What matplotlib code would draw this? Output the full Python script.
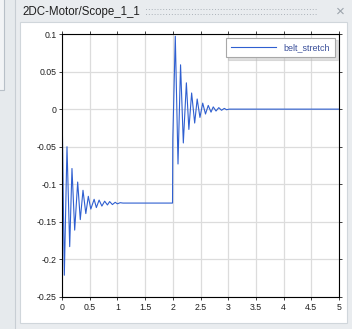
import matplotlib
matplotlib.use('Agg')
import matplotlib.pyplot as plt
from matplotlib.patches import Rectangle

# signal: turning points of belt_stretch
time = [0.0, 0.005, 0.042, 0.09, 0.139, 0.18, 0.229, 0.283, 0.33, 0.379, 0.43,
        0.475, 0.52, 0.58, 0.62, 0.67, 0.72, 0.77, 0.82, 0.86, 0.91, 0.96, 1.0,
        1.05, 1.1, 1.995, 2.0, 2.045, 2.094, 2.14, 2.19, 2.245, 2.29, 2.34,
        2.395, 2.44, 2.49, 2.54, 2.59, 2.64, 2.69, 2.73, 2.78, 2.83, 2.88,
        2.93, 2.97, 3.02, 5.0]
belt_stretch = [0.0, -0.018, -0.221, -0.05, -0.183, -0.079, -0.161, -0.097,
                -0.147, -0.108, -0.139, -0.116, -0.133, -0.12, -0.131, -0.121,
                -0.129, -0.1225, -0.1275, -0.123, -0.127, -0.124, -0.126,
                -0.1245, -0.125, -0.125, -0.04, 0.097, -0.073, 0.059, -0.045,
                0.035, -0.027, 0.0215, -0.0185, 0.0135, -0.011, 0.008, -0.0065,
                0.005, -0.004, 0.003, -0.0025, 0.002, -0.0015, 0.001, -0.0008,
                0.0, 0.0]

x_ticks = [0, 0.5, 1, 1.5, 2, 2.5, 3, 3.5, 4, 4.5, 5]
x_labels = ['0', '0.5', '1', '1.5', '2', '2.5', '3', '3.5', '4', '4.5', '5']
y_ticks = [-0.25, -0.2, -0.15, -0.1, -0.05, 0, 0.05, 0.1]
y_labels = ['-0.25', '-0.2', '-0.15', '-0.1', '-0.05', '0', '0.05', '0.1']

plt.rcParams['font.family'] = ['Liberation Sans', 'DejaVu Sans']

W, H = 352, 329
fig = plt.figure(figsize=(W / 100, H / 100), dpi=100, facecolor='#e6eaed')

def box(x0, y0, x1, y1, fc, ec='none', lw=0):
    # rectangle in pixel coords (top-left origin)
    fig.add_artist(Rectangle((x0 / W, 1 - y1 / H), (x1 - x0) / W, (y1 - y0) / H,
                             transform=fig.transFigure, facecolor=fc,
                             edgecolor=ec, linewidth=lw, zorder=0))

# bits of the surrounding window
box(-2, -2, 4, 90, '#f2f4f6', '#b8c0c8', 0.8)
box(15, -2, 354, 331, '#e9ecef', '#c8ced4', 0.8)
box(20, 22, 347, 323, '#ffffff', '#d0d6db', 0.8)
fig.text(22 / W, 1 - 12 / H, '2DC-Motor/Scope_1_1', fontsize=8.3, color='#202020',
         va='center', ha='left')
fig.text(145 / W, 1 - 12 / H, ':' * 60, fontsize=7.5, color='#98a0a8',
         va='center', ha='left')
fig.text(340 / W, 1 - 12 / H, '\u00d7', fontsize=11, color='#9aa2aa',
         va='center', ha='center')

ax = fig.add_axes([62 / W, 1 - 297 / H, (339 - 62) / W, (297 - 34) / H])
ax.plot(time, belt_stretch, color='#2f5fd0', linewidth=0.8, label='belt_stretch')

ax.set_xlim(0, 5)
ax.set_ylim(-0.25, 0.1)
ax.set_xticks(x_ticks)
ax.set_xticklabels(x_labels)
ax.set_yticks(y_ticks)
ax.set_yticklabels(y_labels)
ax.tick_params(labelsize=6.3, length=2.5, width=0.6, pad=1.5, colors='#202020',
               top=True, right=True, direction='out')
ax.grid(True, color='#dcdcdc', linewidth=0.9)
ax.set_axisbelow(True)
for s in ax.spines.values():
    s.set_linewidth(0.8)
    s.set_color('#000000')

leg = ax.legend(loc='upper right', fontsize=6.5, frameon=True, fancybox=False,
                shadow={'color': '#c0c0c0'}, edgecolor='#a8a8a8',
                handlelength=5, borderaxespad=0.4, borderpad=0.6)
for txt in leg.get_texts():
    txt.set_color('#3a4f9a')
leg.get_frame().set_linewidth(0.8)

fig.savefig('out.png', dpi=100, facecolor=fig.get_facecolor())
